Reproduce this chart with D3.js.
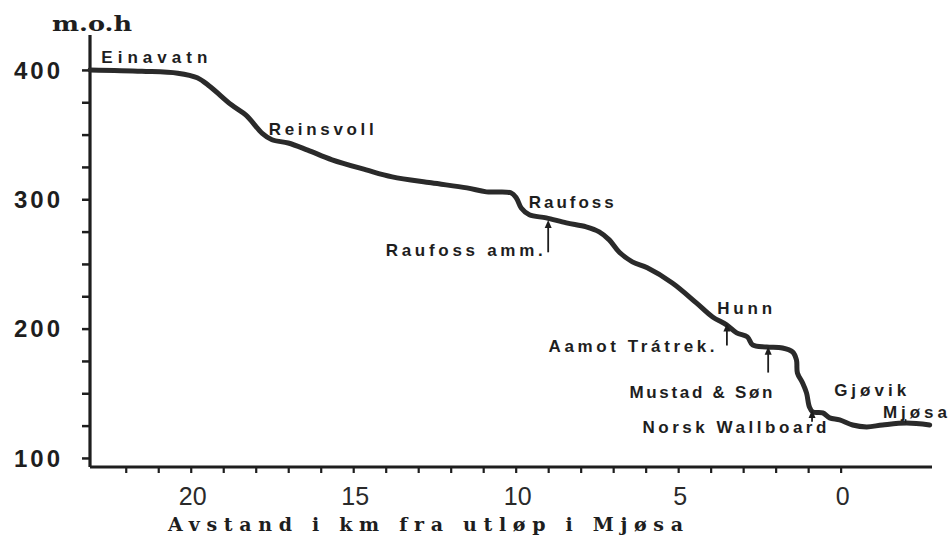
<!DOCTYPE html>
<html>
<head>
<meta charset="utf-8">
<script src="https://cdn.jsdelivr.net/npm/d3@7"></script>
<style>
  html, body { margin: 0; padding: 0; background: #fff; }
  svg { display: block; }
</style>
</head>
<body>
<svg id="chart" width="949" height="550"></svg>
<script>
// ---- Data (distance from outlet in Mjøsa, km  /  elevation, m.o.h) ----
const distanceKm = [23.1, 21.5, 20.4, 19.8, 19.4, 18.75, 18.3, 17.8, 17.5, 17.0, 16.4, 15.65, 14.6, 13.8, 12.6, 11.5, 10.9, 10.15, 9.98, 9.83, 9.58, 9.06, 8.44, 7.83, 7.43, 7.12, 6.81, 6.41, 5.95, 5.18, 4.44, 3.94, 3.51, 3.2, 2.87, 2.71, 2.28, 1.79, 1.48, 1.36, 1.33, 1.17, 1.05, 0.96, 0.86, 0.55, 0.34, 0.03, -0.37, -0.8, -1.29, -2.03, -2.74];
const elevation  = [400, 399, 397.5, 394, 387, 373, 365, 351, 346, 343.5, 338, 330.5, 322.7, 317.3, 312.7, 308.8, 305.7, 305, 301, 293.3, 288, 285.6, 281.7, 278.7, 274.8, 268.6, 259, 251.6, 247, 235.3, 219.9, 209, 202.9, 196.7, 193.6, 187.4, 185.8, 185, 182, 175.8, 165.7, 158, 150.3, 139.4, 135.6, 134.8, 131, 129.4, 125.5, 124, 125.5, 127, 125.5];

const yTickValues   = [100, 200, 300, 400];
const yMinorTicks   = [100, 125, 150, 175, 200, 225, 250, 275, 300, 325, 350, 375, 400];
const xTickValues   = [20, 15, 10, 5, 0];
const xMinorTicks   = d3.range(0, 23, 1);

const yTitle = "m.o.h";
const xTitle = "Avstand i km fra utløp i Mjøsa";

// place names: [label, km, elevation]
const placeNames  = ["Einavatn", "Reinsvoll", "Raufoss", "Hunn", "Gjøvik", "Mjøsa"];
const placeKm     = [22.75, 17.6, 9.6, 3.8, 0.2, -1.3];
const placeElev   = [405, 350, 293, 211, 148, 131];
const placeWidth  = [106, 105, 85, 55, 72, 64];

// industries with arrows
const industryNames = ["Raufoss amm.", "Aamot Trátrek.", "Mustad & Søn", "Norsk Wallboard"];
const arrowKm       = [9.0, 3.5, 2.23, 0.88];
const arrowTopElev  = [284, 204, 186, 137];
const arrowBotElev  = [259, 187, 166, 128];
const industryLabelKm   = [14.0, 8.99, 6.5, 6.1];
const industryLabelElev = [256, 182, 146, 119];
const industryWidth     = [157, 166, 143, 184];

// ---- Layout ----
const svg = d3.select("#chart");
const ink = "#1e1e1e";

const x = d3.scaleLinear().domain([23.1, -2.75]).range([90, 930]);
const y = d3.scaleLinear().domain([93, 427]).range([467, 35]);

// Y axis
const yAxis = d3.axisLeft(y).tickValues(yMinorTicks).tickSize(8).tickFormat("");
const gy = svg.append("g").attr("transform", `translate(${x(23.1)},0)`).call(yAxis);
gy.select(".domain").attr("d", `M0,${y(93)}V${y(427)}`).attr("stroke", ink).attr("stroke-width", 3.2);
gy.selectAll(".tick line").attr("stroke", ink).attr("stroke-width", 2.5);

svg.append("g").selectAll("text").data(yTickValues).join("text")
  .attr("x", 14)
  .attr("y", d => y(d))
  .attr("dy", "0.36em")
  .attr("font-family", "Liberation Sans, Arial, sans-serif")
  .attr("font-weight", "bold")
  .attr("font-size", 24)
  .attr("letter-spacing", 3)
  .attr("fill", ink)
  .text(d => d);

// X axis
const xAxis = d3.axisBottom(x).tickValues(xMinorTicks).tickSize(6).tickFormat("");
const gx = svg.append("g").attr("transform", `translate(0,${y(93)})`).call(xAxis);
gx.select(".domain").attr("d", `M${x(23.1)},0H${x(-2.75) + 2}`).attr("stroke", ink).attr("stroke-width", 3.2);
gx.selectAll(".tick line").attr("stroke", ink).attr("stroke-width", 2.2);

svg.append("g").selectAll("text").data(xTickValues).join("text")
  .attr("x", d => x(d) + 2)
  .attr("y", 505)
  .attr("text-anchor", "middle")
  .attr("font-family", "Liberation Sans, Arial, sans-serif")
  .attr("font-size", 25)
  .attr("fill", "#2a2a2a")
  .text(d => d);

// Titles
svg.append("text")
  .attr("x", 52).attr("y", 31)
  .attr("font-family", "DejaVu Serif, serif")
  .attr("font-weight", "bold")
  .attr("font-size", 21)
  .attr("textLength", 80).attr("lengthAdjust", "spacingAndGlyphs")
  .attr("fill", ink)
  .text(yTitle);

svg.append("text")
  .attr("x", 168).attr("y", 531)
  .attr("font-family", "DejaVu Serif, serif")
  .attr("font-weight", "bold")
  .attr("font-size", 19)
  .attr("textLength", 515).attr("lengthAdjust", "spacing")
  .attr("fill", ink)
  .text(xTitle);

// Profile line
const profile = distanceKm.map((d, i) => [d, elevation[i]]);
const line = d3.line().x(d => x(d[0])).y(d => y(d[1])).curve(d3.curveCatmullRom.alpha(0.5));
svg.append("path")
  .attr("d", line(profile))
  .attr("fill", "none")
  .attr("stroke", "#2a2a2a")
  .attr("stroke-width", 5)
  .attr("stroke-linejoin", "round")
  .attr("stroke-linecap", "round");

// Place names
const labelFont = "Liberation Sans, Arial, sans-serif";
svg.append("g").selectAll("text").data(placeNames).join("text")
  .attr("x", (d, i) => x(placeKm[i]))
  .attr("y", (d, i) => y(placeElev[i]))
  .attr("font-family", labelFont)
  .attr("font-weight", "bold")
  .attr("font-size", 17)
  .attr("textLength", (d, i) => placeWidth[i])
  .attr("lengthAdjust", "spacing")
  .attr("fill", ink)
  .text(d => d);

// Mjøsa small marker
svg.append("line")
  .attr("x1", x(-2.0)).attr("x2", x(-2.0))
  .attr("y1", y(130)).attr("y2", y(127))
  .attr("stroke", ink).attr("stroke-width", 1.5);

// Industry labels
svg.append("g").selectAll("text").data(industryNames).join("text")
  .attr("x", (d, i) => x(industryLabelKm[i]))
  .attr("y", (d, i) => y(industryLabelElev[i]))
  .attr("font-family", labelFont)
  .attr("font-weight", "bold")
  .attr("font-size", 17)
  .attr("textLength", (d, i) => industryWidth[i])
  .attr("lengthAdjust", "spacing")
  .attr("fill", ink)
  .text(d => d);

// Arrows
const arrows = svg.append("g");
industryNames.forEach((d, i) => {
  const ax = x(arrowKm[i]);
  const yt = y(arrowTopElev[i]);
  const yb = y(arrowBotElev[i]);
  arrows.append("line")
    .attr("x1", ax).attr("x2", ax).attr("y1", yt + 3).attr("y2", yb)
    .attr("stroke", ink).attr("stroke-width", 1.8);
  arrows.append("path")
    .attr("d", `M${ax},${yt} L${ax - 3.5},${yt + 8} L${ax + 3.5},${yt + 8} Z`)
    .attr("fill", ink);
});
</script>
</body>
</html>
